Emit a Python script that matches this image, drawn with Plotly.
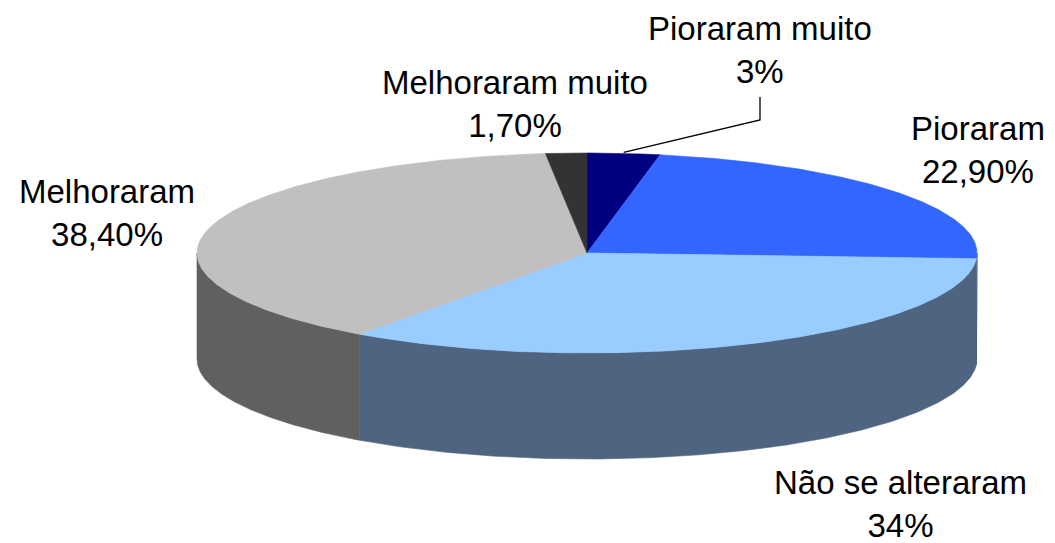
import numpy as np
import plotly.graph_objects as go

# ---- data ----
categories = ["Pioraram muito", "Pioraram", "Não se alteraram", "Melhoraram", "Melhoraram muito"]
values = [3.0, 22.9, 34.0, 38.4, 1.7]
value_labels = ["3%", "22,90%", "34%", "38,40%", "1,70%"]

# ---- style ----
top_colors = ["#000080", "#3366FF", "#99CCFF", "#C0C0C0", "#333333"]
side_colors = ["#000040", "#1A3380", "#4E6480", "#606060", "#1A1A1A"]
label_pos = [(760, 50), (978, 150), (900, 504), (107, 213), (515, 104)]

W, H = 1055, 543
CX, CY, RX, RY, DEPTH = 587, 253, 390, 100, 106
FONT = "Liberation Sans, Arial, sans-serif"
FSIZE = 33


def rim(t_deg):
    t = np.radians(t_deg)
    return CX + RX * np.sin(t), CY - RY * np.cos(t)


fig = go.Figure()

total = sum(values)
bounds = []
acc = 0.0
for v in values:
    start = acc / total * 360.0
    acc += v
    end = acc / total * 360.0
    bounds.append((start, end))

# sides (front half only: 90..270 degrees clockwise from top)
for (s, e), col in zip(bounds, side_colors):
    a, b = max(s, 90.0), min(e, 270.0)
    if b <= a:
        continue
    t = np.linspace(a, b, 200)
    x, y = rim(t)
    xs = np.concatenate([x, x[::-1], [x[0]]])
    ys = np.concatenate([y, (y + DEPTH)[::-1], [y[0]]])
    fig.add_trace(go.Scatter(x=xs, y=ys, mode="lines", fill="toself",
                             fillcolor=col, line=dict(color=col, width=0.6),
                             hoverinfo="skip", showlegend=False))

# top faces
for (s, e), col in zip(bounds, top_colors):
    t = np.linspace(s, e, max(int((e - s) * 3), 20))
    x, y = rim(t)
    xs = np.concatenate([[CX], x, [CX]])
    ys = np.concatenate([[CY], y, [CY]])
    fig.add_trace(go.Scatter(x=xs, y=ys, mode="lines", fill="toself",
                             fillcolor=col, line=dict(color=col, width=0.6),
                             hoverinfo="skip", showlegend=False))

# leader line for the first (small) slice
s0, e0 = bounds[0]
mx, my = rim((s0 + e0) / 2.0)
lx, ly = label_pos[0]
fig.add_trace(go.Scatter(x=[mx, lx, lx], y=[my - 1, ly + 70, ly + 47], mode="lines",
                         line=dict(color="black", width=1.3),
                         hoverinfo="skip", showlegend=False))

for cat, lab, (x, y) in zip(categories, value_labels, label_pos):
    fig.add_annotation(x=x, y=y, xref="x", yref="y", text=f"{cat}<br>{lab}",
                       showarrow=False, xanchor="center", yanchor="middle",
                       align="center", font=dict(family=FONT, size=FSIZE, color="black"))

fig.update_xaxes(range=[0, W], visible=False, fixedrange=True)
fig.update_yaxes(range=[H, 0], visible=False, fixedrange=True)
fig.update_layout(width=W, height=H, autosize=False,
                  margin=dict(l=0, r=0, t=0, b=0),
                  paper_bgcolor="white", plot_bgcolor="white",
                  showlegend=False)

fig.write_html("out.html", config={"displayModeBar": False},
               post_script="document.body.style.margin='0';")
